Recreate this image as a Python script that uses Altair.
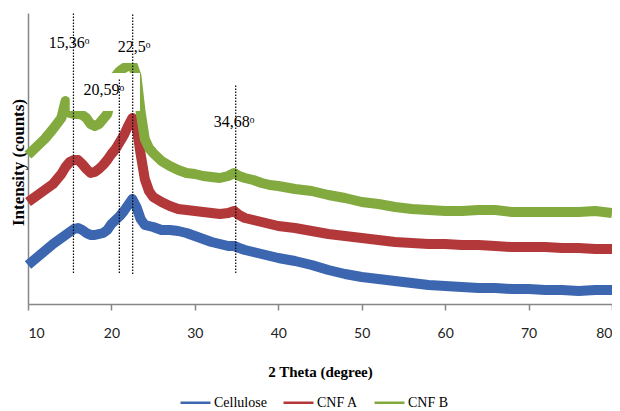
import altair as alt
import pandas as pd

two_theta = [10, 11, 12, 13, 14, 14.5, 15, 15.5, 16, 16.5,
             17, 17.5, 18, 18.5, 19, 19.5, 20, 20.5, 21, 21.5,
             22, 22.5, 23, 23.5, 24, 24.5, 25, 26, 27, 28,
             29, 30, 31, 32, 33, 34, 34.7, 35.3, 36, 37,
             38, 39, 40, 42, 44, 46, 48, 50, 52, 54,
             56, 58, 60, 62, 64, 66, 68, 70, 72, 74,
             76, 78, 80]

cellulose = [39, 46, 53, 60, 66, 69, 72, 75, 76, 74,
             71, 69, 69, 70, 71, 74, 80, 84, 88, 93,
             99, 105, 97, 85, 79, 78, 77, 74, 74, 73,
             71, 68, 65, 62, 60, 58, 58, 56, 54, 52,
             50, 48, 46, 43, 39, 34, 30, 27, 25, 23,
             21, 19, 18, 17, 16, 16, 15, 15, 14, 14,
             13, 14, 14]

cnf_a = [102, 108, 114, 120, 130, 137, 142, 144, 144, 140,
         135, 131, 132, 135, 139, 144, 150, 155, 162, 169,
         178, 186, 178, 150, 125, 113, 107, 102, 98, 95,
         94, 93, 92, 91, 90, 91, 93, 89, 86, 84,
         82, 80, 78, 76, 73, 70, 68, 66, 64, 62,
         61, 60, 60, 59, 59, 58, 57, 57, 57, 56,
         56, 55, 55]

cnf_b = [149, 157, 165, 175, 186, 203, 191, 190, 190, 189,
         186, 180, 178, 180, 185, 190, 205, 228, 233, 236,
         238, 240, 228, 192, 165, 156, 151, 143, 138, 134,
         131, 130, 128, 127, 126, 128, 131, 128, 126, 124,
         121, 119, 118, 115, 113, 109, 106, 102, 100, 97,
         95, 94, 93, 93, 94, 94, 92, 92, 92, 92,
         92, 93, 91]

series_names = ["Cellulose", "CNF A", "CNF B"]
series_colors = ["#3C66B0", "#B3383A", "#82AA3F"]

# peak markers (dotted lines) and their labels
marker_pos = [15.45, 20.95, 22.55, 34.9]
marker_top = [291, 226, 291, 219]
marker_bottom = [31, 31, 30, 31]
label_text = ["15,36ᵒ", "20,59ᵒ", "22,5ᵒ", "34,68ᵒ"]
label_x = [14.92, 19.1, 22.7, 34.7]
label_y = [261, 214, 257, 182]

# white label boxes that cover part of the CNF B curve
box_x1 = [15.0, 20.3]
box_x2 = [23.42, 24.2]
box_y1 = [193, 241]
box_y2 = [231, 285]

rows = []
for name, vals in zip(series_names, [cellulose, cnf_a, cnf_b]):
    for t, v in zip(two_theta, vals):
        rows.append({"theta": t, "intensity": v, "sample": name})
curves = pd.DataFrame(rows)
markers = pd.DataFrame({"x": marker_pos, "top": marker_top, "bottom": marker_bottom})
labels = pd.DataFrame({"x": label_x, "y": label_y, "text": label_text})
boxes = pd.DataFrame({"x1": box_x1, "x2": box_x2, "y1": box_y1, "y2": box_y2})

x_scale = alt.Scale(domain=[10, 80], nice=False, zero=False)
y_scale = alt.Scale(domain=[0, 291], nice=False, zero=False)

x_axis = alt.Axis(values=[10, 20, 30, 40, 50, 60, 70, 80], title="2 Theta (degree)",
                  grid=False, domainColor="#868686", domainWidth=1.5,
                  tickColor="#868686", tickWidth=1.5, tickSize=6,
                  labelFont="Lato", labelFontSize=14, labelColor="#222222",
                  labelPadding=16,
                  titleFont="Liberation Serif", titleFontWeight="bold", titleFontSize=15,
                  titleColor="black", titleY=67, titleBaseline="middle")
y_axis = alt.Axis(title="Intensity (counts)", labels=False, ticks=False, grid=False,
                  domainColor="#868686", domainWidth=1.5,
                  titleFont="Liberation Serif", titleFontWeight="bold", titleFontSize=17,
                  titleColor="black", titleAngle=270, titleX=-10, titleY=149,
                  titleBaseline="middle", titleAlign="center")

lines = alt.Chart(curves).mark_line(strokeWidth=10, strokeJoin="round").encode(
    x=alt.X("theta:Q", scale=x_scale, axis=x_axis),
    y=alt.Y("intensity:Q", scale=y_scale, axis=y_axis),
    color=alt.Color("sample:N",
                    scale=alt.Scale(domain=series_names, range=series_colors),
                    legend=alt.Legend(orient="none", legendX=151, legendY=373,
                                      direction="horizontal", title=None,
                                      symbolType="stroke", symbolSize=900,
                                      symbolStrokeWidth=2.5,
                                      labelFont="Liberation Serif", labelFontSize=14,
                                      labelColor="black", labelOffset=2,
                                      columnPadding=11)),
    detail="sample:N",
)

rects = alt.Chart(boxes).mark_rect(color="white").encode(
    x=alt.X("x1:Q", scale=x_scale, axis=x_axis),
    x2="x2:Q",
    y=alt.Y("y1:Q", scale=y_scale, axis=y_axis),
    y2="y2:Q",
)

texts = alt.Chart(labels).mark_text(font="Liberation Serif", fontSize=16, color="black").encode(
    x=alt.X("x:Q", scale=x_scale, axis=x_axis),
    y=alt.Y("y:Q", scale=y_scale, axis=y_axis),
    text="text:N",
)

rules = alt.Chart(markers).mark_rule(color="black", strokeDash=[1.5, 1.5], strokeWidth=1.2).encode(
    x=alt.X("x:Q", scale=x_scale, axis=x_axis),
    y=alt.Y("bottom:Q", scale=y_scale, axis=y_axis),
    y2="top:Q",
)

chart = alt.layer(lines, rects, texts, rules).properties(
    width=584, height=291,
    padding={"left": 20, "top": 5, "right": 0, "bottom": 107},
    autosize=alt.AutoSizeParams(type="none"),
).configure_view(stroke=None)

chart.save("out.html", embed_options={"renderer": "svg", "actions": False})
